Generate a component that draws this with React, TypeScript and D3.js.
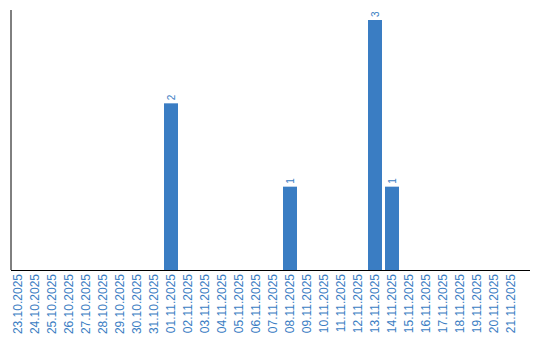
import React from "react";
import * as d3 from "d3";

const dates = [
  "23.10.2025","24.10.2025","25.10.2025","26.10.2025","27.10.2025","28.10.2025","29.10.2025","30.10.2025","31.10.2025",
  "01.11.2025","02.11.2025","03.11.2025","04.11.2025","05.11.2025","06.11.2025","07.11.2025","08.11.2025","09.11.2025",
  "10.11.2025","11.11.2025","12.11.2025","13.11.2025","14.11.2025","15.11.2025","16.11.2025","17.11.2025","18.11.2025",
  "19.11.2025","20.11.2025","21.11.2025",
];
const counts = [0,0,0,0,0,0,0,0,0,2,0,0,0,0,0,0,1,0,0,0,0,3,1,0,0,0,0,0,0,0];

const W = 540, H = 340;
const left = 11, bottom = 270, top = 20;
const step = 17;
const BLUE = "#3a7dc3";
const FONT = "'Liberation Sans', Arial, sans-serif";

export default function App() {
  const x = d3.scaleBand<string>().domain(dates).range([left, left + step * dates.length]).paddingInner(0).paddingOuter(0);
  const y = d3.scaleLinear().domain([0, 3]).range([bottom, top]);
  const barW = 14;
  return (
    <svg width={W} height={H} style={{ position: "absolute", left: 0, top: 0 }}>
      {dates.map((d, i) => {
        const v = counts[i];
        if (!v) return null;
        const bx = x(d)!;
        return (
          <g key={d}>
            <rect x={bx} y={y(v)} width={barW} height={bottom - y(v)} fill={BLUE} />
            <text
              transform={`translate(${bx + barW / 2 + 4},${y(v) - 3}) rotate(-90)`}
              fontSize={10}
              fontFamily={FONT}
              fill={BLUE}
            >
              {v}
            </text>
          </g>
        );
      })}
      <line x1={left} x2={left} y1={10} y2={bottom} stroke="#000" strokeWidth={1} />
      <line x1={left} x2={530} y1={bottom + 0.5} y2={bottom + 0.5} stroke="#000" strokeWidth={1} />
      {dates.map((d) => (
        <text
          key={"t" + d}
          transform={`translate(${x(d)! + 10.5},${bottom + 4}) rotate(-90)`}
          textAnchor="end"
          fontSize={12}
          fontFamily={FONT}
          fill={BLUE}
        >
          {d}
        </text>
      ))}
    </svg>
  );
}
